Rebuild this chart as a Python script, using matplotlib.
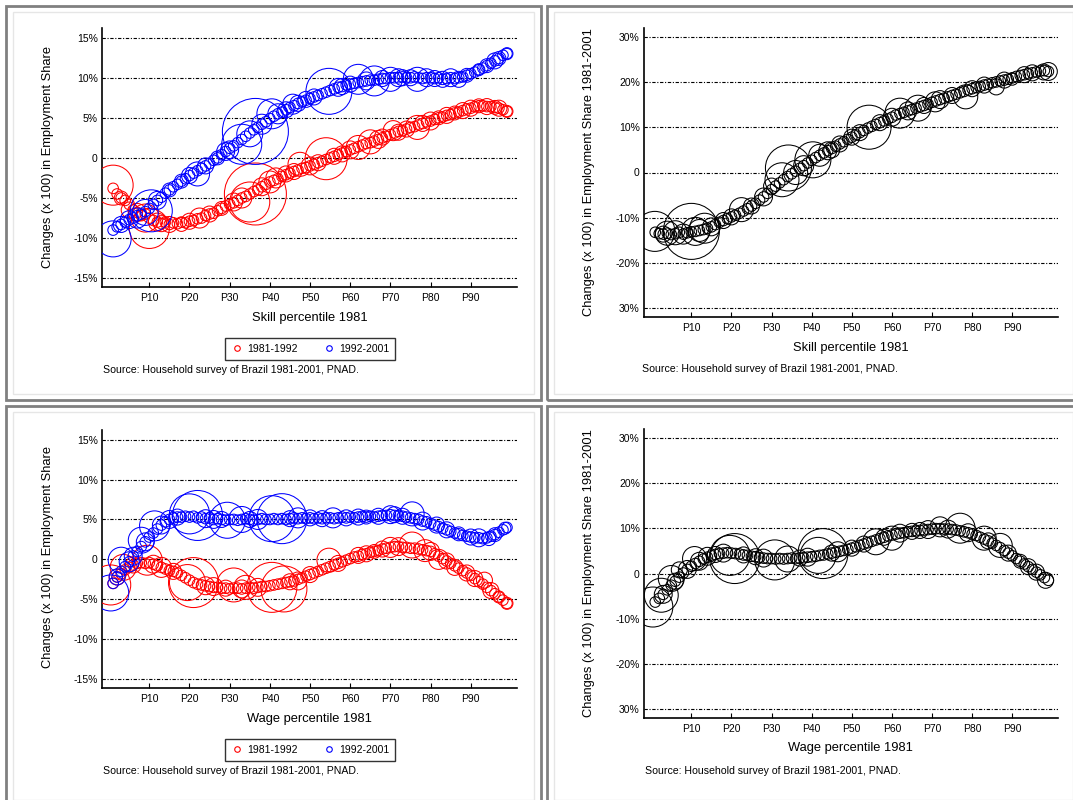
import matplotlib
matplotlib.use("Agg")
import matplotlib.pyplot as plt
from matplotlib.patches import Rectangle
from matplotlib.lines import Line2D

plt.rcParams['font.family'] = ['Liberation Sans', 'DejaVu Sans']

# occupations ranked by 1981 percentile
pctl = list(range(1, 100))

# changes (x 100) in employment share, ranked by skill
skill_81_92 = [-3.8, -4.5, -5.0, -5.3, -5.8, -6.5, -6.8, -7.2, -7.0, -7.5,
               -7.8, -8.0, -8.2, -8.0, -8.3, -8.1, -8.2, -8.0, -8.1, -7.9,
               -7.8, -7.6, -7.5, -7.2, -7.0, -6.9, -6.6, -6.3, -6.0, -5.8,
               -5.6, -5.3, -5.0, -4.8, -4.5, -4.2, -4.0, -3.6, -3.3, -3.0,
               -2.8, -2.6, -2.3, -2.1, -1.9, -1.7, -1.5, -1.3, -1.2, -1.0,
               -0.8, -0.6, -0.4, -0.2, 0.0, 0.2, 0.4, 0.6, 0.8, 1.0,
               1.2, 1.4, 1.6, 1.8, 1.9, 2.1, 2.3, 2.5, 2.7, 2.9,
               3.1, 3.3, 3.4, 3.6, 3.8, 3.9, 4.1, 4.3, 4.5, 4.6,
               4.8, 5.0, 5.1, 5.3, 5.4, 5.6, 5.7, 5.9, 6.1, 6.2,
               6.4, 6.5, 6.5, 6.4, 6.4, 6.3, 6.2, 6.0, 5.8]
skill_92_01 = [-9.0, -8.6, -8.3, -8.0, -7.7, -7.5, -7.2, -7.0, -6.7, -6.3,
               -5.8, -5.3, -4.9, -4.4, -4.0, -3.6, -3.3, -2.9, -2.6, -2.2,
               -1.9, -1.6, -1.3, -1.0, -0.7, -0.3, 0.0, 0.4, 0.8, 1.2,
               1.5, 1.9, 2.3, 2.7, 3.1, 3.5, 3.8, 4.2, 4.5, 4.9,
               5.2, 5.5, 5.7, 6.0, 6.3, 6.5, 6.8, 7.0, 7.2, 7.4,
               7.6, 7.8, 8.0, 8.2, 8.4, 8.6, 8.8, 8.9, 9.1, 9.2,
               9.3, 9.4, 9.5, 9.6, 9.7, 9.7, 9.8, 9.9, 9.9, 10.0,
               10.0, 10.0, 10.1, 10.0, 10.0, 10.1, 10.0, 9.9, 10.0, 10.0,
               9.9, 10.0, 9.8, 9.9, 10.0, 9.9, 10.0, 10.1, 10.3, 10.5,
               10.7, 11.0, 11.2, 11.5, 11.8, 12.1, 12.4, 12.8, 13.0]
skill_81_01 = [-13.2, -13.5, -13.6, -13.4, -13.7, -13.5, -13.2, -13.6, -13.3, -13.1,
               -13.0, -12.8, -12.6, -12.3, -12.0, -11.5, -11.0, -10.6, -10.2, -9.8,
               -9.4, -9.0, -8.5, -8.0, -7.4, -6.8, -6.1, -5.4, -4.6, -3.8,
               -3.0, -2.3, -1.6, -0.9, -0.3, 0.3, 0.9, 1.5, 2.1, 2.7,
               3.3, 3.8, 4.3, 4.8, 5.3, 5.8, 6.3, 6.8, 7.3, 7.8,
               8.3, 8.8, 9.3, 9.8, 10.2, 10.6, 11.0, 11.4, 11.8, 12.2,
               12.7, 13.0, 13.3, 13.6, 13.9, 14.2, 14.5, 14.8, 15.1, 15.5,
               15.8, 16.1, 16.4, 16.7, 17.0, 17.3, 17.6, 17.9, 18.2, 18.5,
               18.8, 19.0, 19.3, 19.5, 19.8, 20.0, 20.2, 20.4, 20.6, 20.9,
               21.2, 21.4, 21.6, 21.8, 22.0, 22.2, 22.4, 22.5, 22.3]

# changes (x 100) in employment share, ranked by wage
wage_81_92 = [-3.0, -2.2, -1.8, -1.3, -1.0, -0.7, -0.5, -0.4, -0.5, -0.4,
              -0.6, -0.8, -1.0, -1.2, -1.4, -1.5, -1.7, -2.0, -2.3, -2.6,
              -2.9, -3.1, -3.2, -3.3, -3.4, -3.5, -3.5, -3.6, -3.6, -3.7,
              -3.6, -3.6, -3.7, -3.6, -3.5, -3.6, -3.5, -3.4, -3.4, -3.3,
              -3.2, -3.1, -3.0, -2.9, -2.8, -2.7, -2.5, -2.3, -2.1, -1.9,
              -1.7, -1.5, -1.3, -1.1, -0.9, -0.7, -0.5, -0.3, -0.1, 0.1,
              0.3, 0.4, 0.6, 0.7, 0.9, 1.0, 1.1, 1.3, 1.4, 1.5,
              1.6, 1.6, 1.5, 1.5, 1.4, 1.4, 1.3, 1.2, 1.1, 1.0,
              0.7, 0.4, 0.1, -0.2, -0.5, -0.8, -1.1, -1.4, -1.7, -2.0,
              -2.4, -2.8, -3.1, -3.5, -3.9, -4.3, -4.7, -5.1, -5.5]
wage_92_01 = [-3.0, -2.2, -1.5, -0.9, -0.3, 0.4, 1.0, 1.6, 2.2, 2.8,
              3.3, 3.8, 4.3, 4.7, 5.0, 5.2, 5.3, 5.3, 5.4, 5.3,
              5.4, 5.2, 5.3, 5.1, 5.2, 5.0, 5.1, 5.0, 4.9, 5.0,
              5.0, 4.9, 5.0, 5.1, 5.0, 4.9, 5.0, 5.1, 5.0, 5.0,
              5.1, 5.0, 5.1, 5.0, 5.1, 5.2, 5.1, 5.2, 5.1, 5.2,
              5.1, 5.2, 5.1, 5.2, 5.2, 5.1, 5.2, 5.3, 5.2, 5.3,
              5.2, 5.3, 5.4, 5.3, 5.4, 5.3, 5.4, 5.5, 5.5, 5.6,
              5.5, 5.5, 5.4, 5.3, 5.2, 5.1, 5.0, 4.8, 4.7, 4.5,
              4.3, 4.1, 3.9, 3.7, 3.5, 3.3, 3.2, 3.0, 2.9, 2.8,
              2.7, 2.7, 2.6, 2.7, 2.9, 3.1, 3.4, 3.7, 4.0]
wage_81_01 = [-6.3, -5.5, -4.6, -3.6, -2.6, -1.7, -0.8, 0.1, 0.9, 1.6,
              2.2, 2.7, 3.2, 3.6, 3.9, 4.2, 4.4, 4.5, 4.6, 4.5,
              4.4, 4.3, 4.1, 4.0, 3.8, 3.7, 3.5, 3.4, 3.3, 3.3,
              3.2, 3.3, 3.2, 3.3, 3.4, 3.3, 3.4, 3.5, 3.6, 3.7,
              3.8, 4.0, 4.1, 4.3, 4.5, 4.7, 4.9, 5.1, 5.3, 5.6,
              5.9, 6.2, 6.5, 6.8, 7.1, 7.4, 7.7, 8.0, 8.3, 8.5,
              8.7, 8.9, 9.0, 9.2, 9.3, 9.4, 9.5, 9.6, 9.7, 9.8,
              9.9, 9.9, 9.8, 9.8, 9.7, 9.6, 9.4, 9.2, 9.0, 8.7,
              8.4, 8.0, 7.6, 7.2, 6.7, 6.2, 5.7, 5.1, 4.5, 3.9,
              3.3, 2.7, 2.1, 1.5, 0.9, 0.3, -0.3, -0.9, -1.5]

# larger occupations: (percentile, change, employment weight)
skill_81_92_large = [(1, -3.4, 100), (3, -5.0, 12), (5, -6.5, 16), (7, -6.8, 20),
                     (9, -7.5, 49), (10, -8.8, 100), (12, -8.0, 20), (13, -8.2, 16),
                     (15, -8.3, 16), (18, -8.3, 12), (20, -7.9, 16), (22.5, -7.5, 25),
                     (25, -7.0, 16), (28, -6.3, 12), (31, -5.5, 20), (33, -5.0, 25),
                     (35, -5.5, 100), (36.4, -4.5, 240), (38, -3.6, 20), (40, -3.0, 30),
                     (41.5, -2.5, 25), (44, -2.0, 16), (46, -1.7, 16), (47.5, -0.8, 36),
                     (50, -1.0, 20), (52, -0.6, 16), (54, -0.1, 110), (56, 0.2, 16),
                     (58, 0.5, 16), (60, 1.0, 20), (62, 1.3, 36), (65, 2.0, 36),
                     (67, 2.3, 20), (68, 2.6, 16), (70.7, 3.4, 25), (72, 3.2, 16),
                     (74, 3.6, 16), (76.7, 3.8, 36), (78, 4.3, 16), (80, 4.6, 20),
                     (82, 5.0, 12), (84, 5.3, 16), (86, 5.6, 12), (88, 5.9, 16),
                     (90, 6.2, 16), (92, 6.5, 12), (94, 6.4, 16), (96, 6.3, 12),
                     (97, 6.2, 16), (99, 5.8, 9)]
skill_92_01_large = [(1, -10.1, 81), (3, -8.3, 16), (5, -7.7, 20), (7, -7.5, 25),
                     (9, -6.8, 42), (10.5, -6.6, 110), (12, -5.3, 20), (15, -4.0, 12),
                     (18, -2.9, 12), (20, -2.2, 16), (22, -2.0, 36), (24, -1.0, 16),
                     (27, 0.0, 12), (29, 0.8, 20), (30, 1.0, 20), (33, 1.7, 100),
                     (35, 3.0, 42), (36.4, 3.3, 272), (38, 4.2, 25), (40.5, 5.5, 56),
                     (42, 5.5, 25), (44, 6.0, 16), (45.7, 6.7, 25), (47, 6.8, 16),
                     (49, 7.3, 16), (51, 7.6, 16), (54.7, 8.3, 132), (57, 8.8, 20),
                     (58, 8.9, 16), (60, 9.2, 16), (62, 9.8, 56), (64, 9.6, 20),
                     (66, 9.6, 56), (68, 9.9, 16), (70, 9.8, 36), (72, 10.0, 20),
                     (73, 10.0, 16), (75, 10.0, 16), (76.7, 9.8, 36), (79, 10.0, 20),
                     (81, 9.9, 16), (83, 9.8, 16), (85, 10.0, 20), (87, 9.8, 16),
                     (89, 10.3, 12), (92, 11.0, 9), (94, 11.5, 12), (96, 12.1, 16),
                     (97, 12.4, 12), (99, 13.0, 9)]
skill_81_01_large = [(0.9, -13.0, 100), (3, -13.6, 16), (4, -13.4, 36), (6, -13.3, 36),
                     (8, -13.6, 25), (10, -13.0, 196), (11, -13.0, 49), (12, -12.8, 30),
                     (13.3, -12.3, 56), (15, -12.0, 20), (18, -10.6, 16), (20, -9.8, 16),
                     (22.5, -8.2, 36), (25, -7.4, 16), (28, -5.4, 20), (30, -3.0, 16),
                     (32.6, -1.6, 72), (34.2, 1.0, 132), (36, 0.0, 36), (38, 1.5, 25),
                     (40.3, 2.8, 81), (42, 3.8, 30), (44, 4.8, 20), (45, 5.0, 16),
                     (47, 6.3, 16), (50, 7.8, 16), (52, 8.8, 16), (54.3, 10.0, 121),
                     (57, 11.0, 16), (60, 12.2, 20), (62, 13.1, 56), (64, 13.6, 20),
                     (66.5, 14.2, 42), (68, 14.8, 16), (70.8, 15.6, 25), (72, 16.1, 20),
                     (75, 17.0, 16), (78.4, 16.7, 36), (80, 18.5, 16), (83, 19.3, 16),
                     (86, 18.9, 16), (88, 20.4, 16), (90, 20.6, 9), (93, 21.6, 16),
                     (95, 22.0, 16), (97.8, 22.2, 16), (99, 22.3, 20)]
wage_81_92_large = [(0.4, -3.2, 100), (2, -2.2, 16), (3.5, -1.0, 42), (6, -0.7, 16),
                    (9.5, -0.1, 56), (11, -0.6, 20), (13, -1.0, 25), (16, -1.5, 16),
                    (19.5, -2.9, 81), (21, -2.9, 156), (24, -3.3, 20), (26, -3.4, 20),
                    (29, -3.6, 16), (31, -3.2, 72), (33, -3.7, 20), (34, -3.5, 36),
                    (37, -3.5, 20), (40.5, -3.5, 156), (43.5, -3.7, 132), (45, -2.8, 16),
                    (47, -2.7, 20), (50, -1.9, 16), (54.7, -0.1, 36), (57, -0.5, 16),
                    (62, 0.5, 16), (64, 0.7, 16), (66, 1.0, 12), (68, 1.3, 16),
                    (70, 1.5, 25), (72, 1.6, 20), (75.4, 1.8, 42), (78.6, 1.1, 30),
                    (80, 1.0, 20), (82, 0.0, 25), (84, -0.2, 16), (86, -1.0, 16),
                    (89, -1.7, 16), (91, -2.4, 16), (93.4, -2.6, 16), (95, -3.9, 16),
                    (97, -4.7, 9), (99, -5.5, 9)]
wage_92_01_large = [(0.4, -4.2, 81), (2, -2.2, 16), (3, -0.1, 42), (5, -0.3, 25),
                    (6, 0.4, 20), (8, 2.4, 42), (9, 2.2, 20), (11.3, 4.2, 56),
                    (13, 4.3, 20), (15, 5.0, 20), (17, 5.3, 16), (20, 5.7, 100),
                    (22, 5.5, 156), (24, 5.1, 20), (26, 5.0, 20), (28, 5.0, 16),
                    (29.4, 4.9, 81), (33, 5.0, 42), (35, 5.0, 16), (37, 5.0, 25),
                    (40.5, 5.1, 132), (43, 5.1, 156), (45, 5.1, 16), (47, 5.2, 25),
                    (50, 5.2, 16), (53, 5.1, 16), (55.7, 5.2, 25), (59, 5.2, 16),
                    (62, 5.3, 16), (64, 5.3, 12), (67, 5.4, 16), (70, 5.6, 20),
                    (71, 5.6, 16), (73, 5.4, 16), (75.4, 5.7, 36), (78, 4.8, 20),
                    (81.5, 4.3, 16), (84, 3.7, 16), (87, 3.2, 12), (90, 2.8, 16),
                    (92, 2.7, 20), (94.5, 2.6, 12), (96, 3.1, 12), (98.5, 3.9, 9)]
wage_81_01_large = [(0.4, -7.4, 100), (2.5, -4.8, 72), (3, -4.6, 20), (5, -1.1, 42),
                    (6, -1.7, 16), (7, 0.8, 16), (9, 0.9, 20), (10.8, 3.3, 36),
                    (12, 2.7, 20), (14, 3.8, 20), (16, 4.2, 16), (18, 4.5, 20),
                    (19.6, 4.0, 100), (20.8, 3.3, 156), (23, 4.1, 16), (26, 3.7, 16),
                    (28, 3.4, 20), (30.8, 3.0, 100), (34, 3.2, 42), (37, 3.4, 16),
                    (39, 3.6, 20), (41.6, 4.0, 81), (42.8, 4.4, 156), (45, 4.5, 16),
                    (46.5, 4.8, 25), (50, 5.6, 16), (53, 6.5, 16), (56, 7.0, 42),
                    (58, 8.0, 16), (60, 7.8, 36), (62, 8.9, 20), (65, 9.3, 16),
                    (67, 9.5, 16), (69, 9.7, 20), (72, 10.3, 25), (74, 9.8, 20),
                    (77, 10.0, 56), (79, 9.0, 20), (83, 7.8, 36), (84, 7.2, 16),
                    (87, 6.2, 36), (89, 4.5, 16), (92, 2.7, 12), (94, 1.5, 16),
                    (96, 0.3, 16), (98.3, -1.5, 16)]

small_weight = 7
size_scale = 8.3  # weight -> marker area (pt^2)

period_labels = ['1981-1992', '1992-2001']
source_text = 'Source: Household survey of Brazil 1981-2001, PNAD.'
ylabel_split = 'Changes (x 100) in Employment Share'
ylabel_total = 'Changes (x 100) in Employment Share 1981-2001'
xticks = [10, 20, 30, 40, 50, 60, 70, 80, 90]
xticklabels = ['P10', 'P20', 'P30', 'P40', 'P50', 'P60', 'P70', 'P80', 'P90']
yticks_split = [15, 10, 5, 0, -5, -10, -15]
yticklabels_split = ['15%', '10%', '5%', '0', '-5%', '-10%', '-15%']
yticks_total = [30, 20, 10, 0, -10, -20, -30]
yticklabels_total = ['30%', '20%', '10%', '0', '-10%', '-20%', '30%']

W, H = 1073, 800
fig = plt.figure(figsize=(W / 100, H / 100), dpi=100)
fig.patch.set_facecolor('white')


def box(x0, y0, x1, y1):
    return [x0 / W, 1 - y1 / H, (x1 - x0) / W, (y1 - y0) / H]


def scatter_series(ax, y, large, color):
    ax.scatter(pctl, y, s=small_weight * size_scale, facecolors='none',
               edgecolors=color, linewidths=0.75, zorder=3)
    lx = [p[0] for p in large]
    ly = [p[1] for p in large]
    lw = [p[2] * size_scale for p in large]
    ax.scatter(lx, ly, s=lw, facecolors='none', edgecolors=color,
               linewidths=0.75, zorder=3)


def style_axes(ax, ylim, yticks, yticklabels, xlim):
    ax.set_xlim(*xlim)
    ax.set_ylim(*ylim)
    ax.set_xticks(xticks)
    ax.set_xticklabels(xticklabels)
    ax.set_yticks(yticks)
    ax.set_yticklabels(yticklabels)
    ax.tick_params(axis='x', direction='in', length=3.5, width=0.8, pad=4,
                   labelsize=7.5)
    ax.tick_params(axis='y', length=0, pad=3, labelsize=7.5)
    for side in ['top', 'right']:
        ax.spines[side].set_visible(False)
    for side in ['left', 'bottom']:
        ax.spines[side].set_linewidth(1.2)
    ax.yaxis.grid(True, color='black', linewidth=0.8,
                  linestyle=(0, (3, 1.5, 1, 1.5)))
    ax.set_axisbelow(True)


def panel_frame(x0, y0, x1, y1):
    fig.add_artist(Rectangle((x0 / W, 1 - y1 / H), (x1 - x0) / W, (y1 - y0) / H,
                             transform=fig.transFigure, fill=False,
                             edgecolor='#808080', linewidth=2))
    fig.add_artist(Rectangle(((x0 + 7) / W, 1 - (y1 - 6) / H),
                             (x1 - x0 - 14) / W, (y1 - y0 - 12) / H,
                             transform=fig.transFigure, fill=False,
                             edgecolor='#e6e6e6', linewidth=1))


panel_frame(6, 6, 541, 400)
panel_frame(547, 6, 1080, 400)
panel_frame(6, 406, 541, 806)
panel_frame(547, 406, 1080, 806)

legend_handles = [
    Line2D([], [], marker='o', linestyle='', markerfacecolor='none',
           markeredgecolor='red', markersize=4, markeredgewidth=0.8),
    Line2D([], [], marker='o', linestyle='', markerfacecolor='none',
           markeredgecolor='blue', markersize=4, markeredgewidth=0.8),
]

panels = [
    dict(rect=box(102, 28, 517, 287), split=True, xlim=(-1.77, 101.5),
         series=[(skill_81_92, skill_81_92_large, 'red'),
                 (skill_92_01, skill_92_01_large, 'blue')],
         ylab=(48, 157), xlab='Skill percentile 1981', xlab_pos=(310, 318),
         legend_y=349, source_pos=(103, 370)),
    dict(rect=box(644, 28, 1058, 317), split=False, xlim=(-1.8, 101.4),
         series=[(skill_81_01, skill_81_01_large, 'black')],
         ylab=(589, 172), xlab='Skill percentile 1981', xlab_pos=(851, 348),
         legend_y=None, source_pos=(642, 369)),
    dict(rect=box(102, 430, 517, 688), split=True, xlim=(-1.77, 101.5),
         series=[(wage_81_92, wage_81_92_large, 'red'),
                 (wage_92_01, wage_92_01_large, 'blue')],
         ylab=(48, 557), xlab='Wage percentile 1981', xlab_pos=(309, 719),
         legend_y=750, source_pos=(103, 771)),
    dict(rect=box(644, 429, 1058, 718), split=False, xlim=(-1.8, 101.4),
         series=[(wage_81_01, wage_81_01_large, 'black')],
         ylab=(589, 573), xlab='Wage percentile 1981', xlab_pos=(850, 748),
         legend_y=None, source_pos=(645, 771)),
]

for p in panels:
    ax = fig.add_axes(p['rect'])
    if p['split']:
        style_axes(ax, (-16.1, 16.2), yticks_split, yticklabels_split, p['xlim'])
        ylabel = ylabel_split
    else:
        style_axes(ax, (-31.9, 31.9), yticks_total, yticklabels_total, p['xlim'])
        ylabel = ylabel_total
    for y, large, color in p['series']:
        scatter_series(ax, y, large, color)

    fig.text(p['ylab'][0] / W, 1 - p['ylab'][1] / H, ylabel, rotation=90,
             ha='center', va='center', fontsize=9.3)
    fig.text(p['xlab_pos'][0] / W, 1 - p['xlab_pos'][1] / H, p['xlab'],
             ha='center', va='center', fontsize=9.3)
    fig.text(p['source_pos'][0] / W, 1 - p['source_pos'][1] / H, source_text,
             ha='left', va='center', fontsize=7.6)
    if p['legend_y'] is not None:
        leg = fig.legend(legend_handles, period_labels, loc='center',
                         bbox_to_anchor=(310 / W, 1 - p['legend_y'] / H),
                         ncol=2, fontsize=7.5, frameon=True, fancybox=False,
                         edgecolor='black', handletextpad=0.4,
                         columnspacing=2.4, handlelength=1.2,
                         borderpad=0.55, borderaxespad=0)
        leg.get_frame().set_linewidth(1.0)

fig.savefig('out.png', dpi=100, facecolor='white')
